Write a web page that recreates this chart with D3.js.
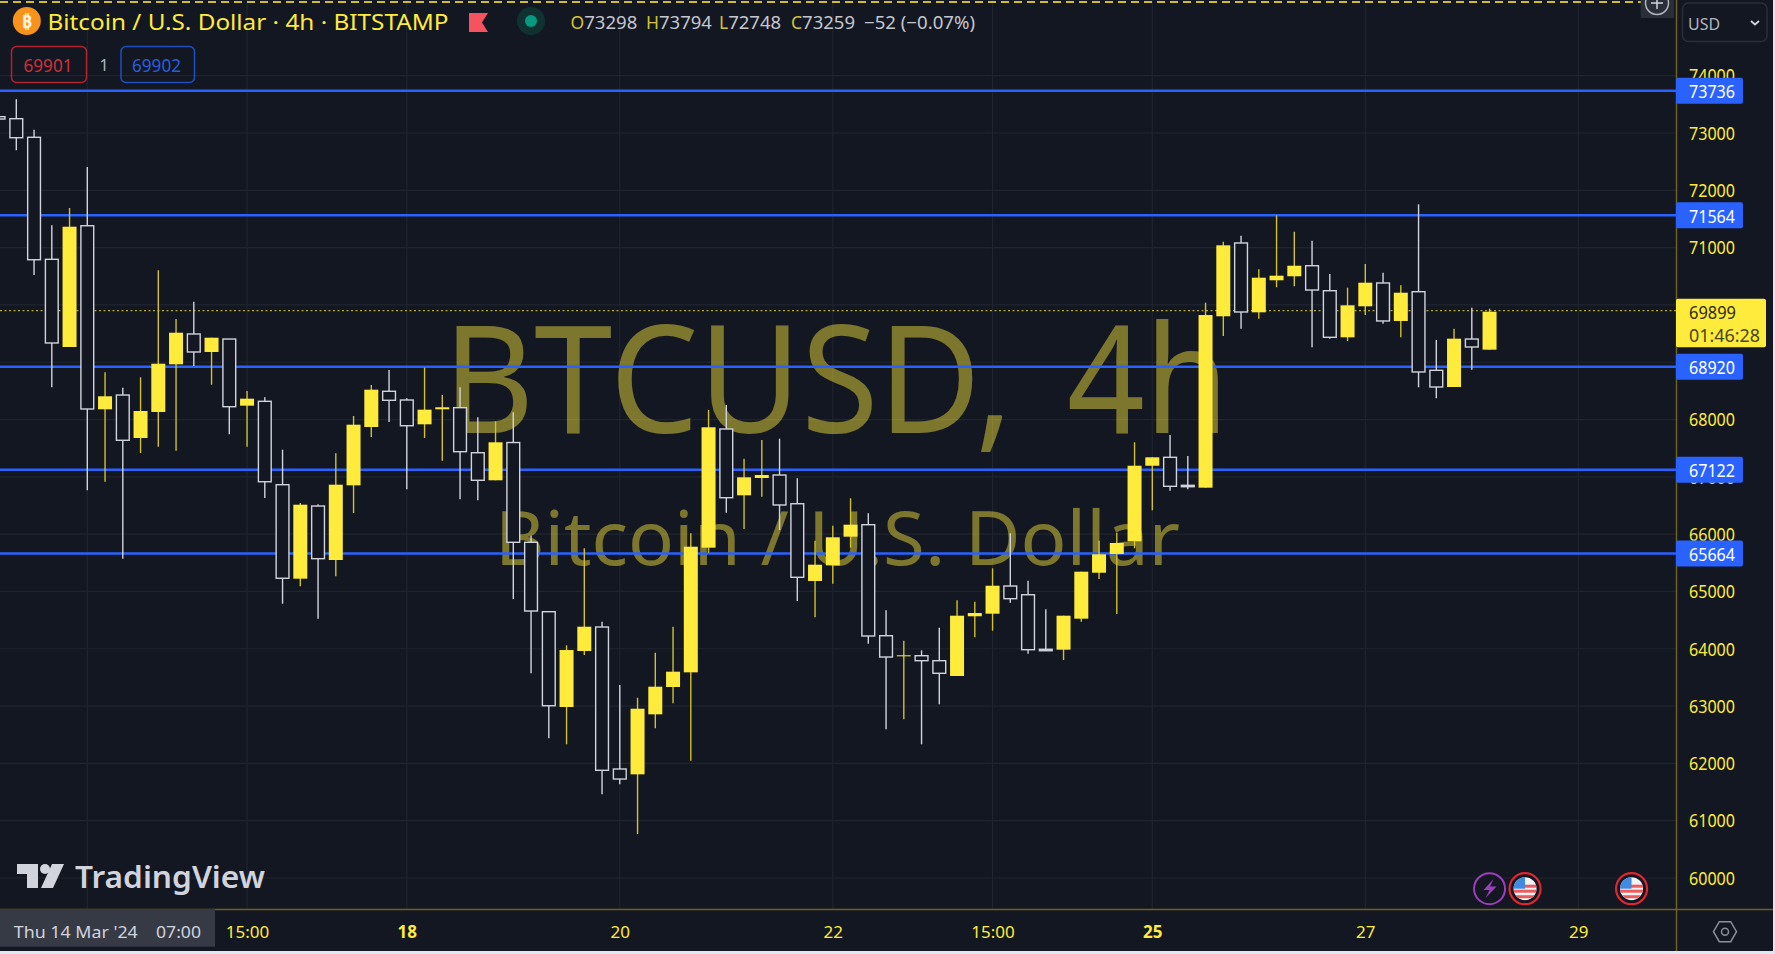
<!DOCTYPE html>
<html>
<head>
<meta charset="utf-8">
<script src="https://cdn.jsdelivr.net/npm/d3@7"></script>
<style>
  html, body { margin: 0; padding: 0; background: #131722; overflow: hidden; }
  svg { display: block; }
  text { font-family: "Noto Sans", sans-serif; }
</style>
</head>
<body>
<svg id="chart" width="1775" height="954"></svg>
<script>
// bar index 0 is the gridline hidden under the date tooltip, first bar is cut by the left edge
var firstBar = -5;
var opens = [73285,73250,72925,70796,69266,71382,68179,68428,67678,68132,68964,69493,69179,69405,68242,68318,66863,65223,66491,65549,66852,67870,68493,68341,67917,68179,68207,67421,66940,67599,65858,64647,62984,63961,64380,61902,61809,62856,63333,63589,65764,67835,66678,66980,67032,66531,65183,65456,65956,66165,64228,63869,63879,63792,63525,64567,64612,65095,64943,63991,63984,64525,65327,65654,65875,67194,67341,66852,66811,69802,71081,69871,70430,70500,70684,70248,69435,69976,70383,69720,70231,68859,68568,69405,69219];
var highs = [73285,73588,73058,71390,71691,72407,68824,68556,68737,70604,69754,70056,69428,69405,68498,68388,67474,66544,66521,67411,68062,68603,68864,68371,68905,68428,68563,68039,67969,68126,65973,64647,64060,65753,64472,63368,63146,63931,64385,66015,68166,68254,67317,67643,67666,66975,65886,66147,66626,66364,64671,64141,63973,64368,64846,64821,65404,66015,65188,64689,64577,65345,65886,66025,67603,67341,67730,67364,70039,71103,71208,70622,71564,71278,71121,70540,70301,70714,70562,70343,71756,69388,69585,69952,69934];
var lows = [73244,72698,70522,68563,69266,66765,66915,65572,67416,67526,67456,68934,68608,67743,67526,66631,64786,65090,64525,65265,66369,67695,67957,66783,67678,67282,66608,66591,66940,64868,63572,62438,62333,63891,61460,61635,60768,62612,63048,62047,65676,66374,66090,66654,66072,64834,64549,65135,65764,64088,62595,62769,62333,63031,63525,64200,64315,64804,63914,63966,63804,64472,65217,64607,65753,66416,66758,66783,66811,69458,69585,69760,70308,70325,69261,69411,69371,69824,69672,69435,68563,68371,68568,68870,69219];
var closes = [73244,72918,70789,69336,71365,68184,68406,67638,68149,68974,69515,69179,69428,68224,68364,66915,65230,66514,65572,66863,67910,68521,68336,67892,68172,68214,67439,66940,67603,65858,64659,63006,63978,64385,61879,61727,62954,63338,63600,65781,67865,66636,66992,67032,66509,65247,65467,65945,66165,64223,63856,63886,63792,63572,64577,64624,65100,64874,63984,63966,64577,65345,65648,65846,67194,67341,66835,66828,69824,71040,69877,70475,70510,70684,70260,69435,69993,70388,69720,70213,68830,68568,69411,69266,69882];

var levels = [73736, 71564, 68920, 67122, 65664];
var lastPrice = 69899;
var countdown = "01:46:28";
var priceTicks = [60000,61000,62000,63000,64000,65000,66000,67000,68000,69000,70000,71000,72000,73000,74000];
// 69000 and 70000 sit behind the price tags in the picture
var priceLabels = [60000,61000,62000,63000,64000,65000,66000,67000,68000,71000,72000,73000,74000];
var timeTicks = [9, 18, 30, 42, 51, 60, 72, 84];
var timeLabels = ["15:00", "18", "20", "22", "15:00", "25", "27", "29"];
var boldTimeLabels = ["18", "25"];
var boltBar = 79;
var flagBars = [81, 87];

var bg = "#131722", yellow = "#ffeb3b", wickYellow = "#d2c02c", white = "#d1d4dc",
    blue = "#2962ff", grid = "#20242f", axisLine = "#6b6226";

var plotW = 1676, plotH = 909;
var svg = d3.select("#chart");

var x = d3.scaleLinear().domain([0, 84]).range([87.3, 1578.3]);
var y = d3.scaleLinear().domain([60000, 74000]).range([878, 75.7]);

function put(g, px, py, txt, o) {
  o = o || {};
  var t = g.append("text").attr("x", px).attr("y", py).text(txt)
    .attr("fill", o.fill || white)
    .attr("font-size", o.size || 18)
    .attr("font-weight", o.weight || 400)
    .attr("text-anchor", o.anchor || "start")
    .attr("dominant-baseline", "central");
  if (o.len) t.attr("textLength", o.len).attr("lengthAdjust", "spacingAndGlyphs");
  return t;
}

svg.append("rect").attr("width", 1775).attr("height", 954).attr("fill", bg);

// grid
var gridG = svg.append("g");
gridG.selectAll(".h").data(priceTicks).enter().append("line")
  .attr("x1", 0).attr("x2", plotW)
  .attr("y1", function (d) { return y(d); }).attr("y2", function (d) { return y(d); })
  .attr("stroke", grid).attr("stroke-width", 1.2);
gridG.selectAll(".v").data([0].concat(timeTicks)).enter().append("line")
  .attr("x1", function (d) { return x(d); }).attr("x2", function (d) { return x(d); })
  .attr("y1", 0).attr("y2", plotH)
  .attr("stroke", grid).attr("stroke-width", 1.2);

// watermark
var mark = svg.append("g").attr("opacity", 0.45).attr("fill", yellow);
mark.append("text").text("BTCUSD,").attr("x", 443).attr("y", 433)
  .attr("font-size", 150)
  .attr("textLength", 570).attr("lengthAdjust", "spacingAndGlyphs");
mark.append("text").text("4h").attr("x", 1067).attr("y", 433)
  .attr("font-size", 150)
  .attr("textLength", 162).attr("lengthAdjust", "spacingAndGlyphs");
mark.append("text").text("Bitcoin / U.S. Dollar").attr("x", 495).attr("y", 565)
  .attr("font-size", 74)
  .attr("textLength", 685).attr("lengthAdjust", "spacingAndGlyphs");

// last price line, horizontal levels
svg.append("line").attr("x1", 0).attr("x2", plotW)
  .attr("y1", y(lastPrice)).attr("y2", y(lastPrice))
  .attr("stroke", "#b5a62d").attr("stroke-width", 1.2).attr("stroke-dasharray", "2,2.5");

svg.selectAll(".level").data(levels).enter().append("line")
  .attr("x1", 0).attr("x2", plotW)
  .attr("y1", function (d) { return y(d); }).attr("y2", function (d) { return y(d); })
  .attr("stroke", blue).attr("stroke-width", 2.5);

// candles
var bars = d3.range(opens.length);
var candle = svg.append("g").selectAll("g").data(bars).enter().append("g");

candle.append("line")
  .attr("x1", function (i) { return x(i + firstBar); })
  .attr("x2", function (i) { return x(i + firstBar); })
  .attr("y1", function (i) { return y(highs[i]); })
  .attr("y2", function (i) { return y(lows[i]); })
  .attr("stroke-width", 1.4)
  .attr("stroke", function (i) { return closes[i] >= opens[i] ? wickYellow : white; });

candle.append("rect")
  .attr("x", function (i) { return x(i + firstBar) - (closes[i] >= opens[i] ? 7 : 6.4); })
  .attr("width", function (i) { return closes[i] >= opens[i] ? 14 : 12.8; })
  .attr("y", function (i) { return y(Math.max(opens[i], closes[i])); })
  .attr("height", function (i) { return Math.max(1, Math.abs(y(opens[i]) - y(closes[i]))); })
  .attr("fill", function (i) { return closes[i] >= opens[i] ? yellow : bg; })
  .attr("stroke", function (i) { return closes[i] >= opens[i] ? "none" : white; })
  .attr("stroke-width", 1.4);

// axis panels
svg.append("rect").attr("x", plotW).attr("y", 0).attr("width", 99).attr("height", 954).attr("fill", bg);
svg.append("rect").attr("x", 0).attr("y", plotH).attr("width", 1775).attr("height", 45).attr("fill", bg);
svg.append("line").attr("x1", plotW + 0.5).attr("x2", plotW + 0.5).attr("y1", 0).attr("y2", 951)
  .attr("stroke", axisLine).attr("stroke-width", 1.5);
svg.append("line").attr("x1", 0).attr("x2", 1773).attr("y1", plotH + 0.5).attr("y2", plotH + 0.5)
  .attr("stroke", axisLine).attr("stroke-width", 1.5);

var yAxis = svg.append("g").attr("transform", "translate(" + (plotW + 13) + ",0.5)")
  .call(d3.axisRight(y).tickValues(priceLabels).tickSize(0).tickPadding(0).tickFormat(d3.format("d")));
yAxis.select(".domain").remove();
yAxis.selectAll("text").attr("fill", yellow).attr("font-size", 18)
  .attr("font-family", '"Noto Sans", sans-serif')
  .attr("textLength", 46).attr("lengthAdjust", "spacingAndGlyphs");

var xAxis = svg.append("g").attr("transform", "translate(0,926)")
  .call(d3.axisBottom(x).tickValues(timeTicks).tickSize(0).tickPadding(0)
    .tickFormat(function (d, i) { return timeLabels[i]; }));
xAxis.select(".domain").remove();
xAxis.selectAll("text").attr("fill", yellow).attr("font-size", 17)
  .attr("font-family", '"Noto Sans", sans-serif')
  .attr("font-weight", function (d, i) { return boldTimeLabels.indexOf(timeLabels[i]) >= 0 ? 700 : 400; });

// price tags
var tags = svg.append("g");
levels.forEach(function (d) {
  tags.append("rect").attr("x", plotW).attr("y", y(d) - 13).attr("width", 67).attr("height", 26)
    .attr("rx", 2).attr("fill", blue);
  put(tags, plotW + 36, y(d) + 0.5, String(d), { fill: "#ffffff", anchor: "middle", len: 46 });
});
tags.append("rect").attr("x", plotW).attr("y", 298.7).attr("width", 90).attr("height", 48.6)
  .attr("rx", 2).attr("fill", yellow);
put(tags, plotW + 13, 311.5, String(lastPrice), { fill: "#2e2b12", len: 47 });
put(tags, plotW + 13, 335, countdown, { fill: "#4a4516", len: 71 });

// header
var head = svg.append("g");
head.append("line").attr("x1", 0).attr("x2", 1641).attr("y1", 2).attr("y2", 2)
  .attr("stroke", "#cdbd2f").attr("stroke-width", 1.8).attr("stroke-dasharray", "8,5");
head.append("circle").attr("cx", 26.8).attr("cy", 21).attr("r", 14).attr("fill", "#f7931a");
put(head, 26.8, 21, "₿", { fill: "#fff1dc", size: 18, weight: 700, anchor: "middle" });
put(head, 47.5, 21, "Bitcoin / U.S. Dollar · 4h · BITSTAMP", { fill: yellow, size: 22, len: 401 });
head.append("path").attr("d", "M469,13H488L482,22.5L488,32H469Z").attr("fill", "#f7525f");
head.append("circle").attr("cx", 531).attr("cy", 21).attr("r", 14).attr("fill", "#0f3230");
head.append("circle").attr("cx", 531).attr("cy", 21).attr("r", 6).attr("fill", "#089981");

var ohlc = [["O", "73298", 570.6], ["H", "73794", 646], ["L", "72748", 719], ["C", "73259", 791]];
ohlc.forEach(function (d) {
  var t = put(head, d[2], 21.5, d[0], { fill: "#d3c32f", size: 17.5 });
  put(head, d[2] + t.node().getComputedTextLength(), 21.5, d[1], { fill: "#c4c7cf", size: 17.5, len: 53 });
});
put(head, 864, 21.5, "−52 (−0.07%)", { fill: "#c4c7cf", size: 17.5, len: 111 });

// order boxes
var buy = svg.append("g");
buy.append("rect").attr("x", 11.5).attr("y", 46.5).attr("width", 75).attr("height", 36).attr("rx", 5)
  .attr("fill", "none").attr("stroke", "#b2232e").attr("stroke-width", 1.5);
put(buy, 48, 65, "69901", { fill: "#d0303a", anchor: "middle", size: 17.5, len: 49 });
put(buy, 104, 65, "1", { fill: "#b2b5be", anchor: "middle", size: 16 });
buy.append("rect").attr("x", 121).attr("y", 46.5).attr("width", 73.5).attr("height", 36).attr("rx", 5)
  .attr("fill", "none").attr("stroke", "#1e4fc0").attr("stroke-width", 1.5);
put(buy, 156.5, 65, "69902", { fill: "#2a5fdc", anchor: "middle", size: 17.5, len: 49 });

// top right controls
var ctl = svg.append("g");
ctl.append("rect").attr("x", 1640.7).attr("y", 0).attr("width", 33.3).attr("height", 18).attr("fill", "#2a2e39");
ctl.append("circle").attr("cx", 1657).attr("cy", 3).attr("r", 11.5)
  .attr("fill", "none").attr("stroke", "#b2b5be").attr("stroke-width", 1.5);
ctl.append("path").attr("d", "M1651,3H1663M1657,-3V9").attr("stroke", "#d1d4dc").attr("stroke-width", 1.5);
ctl.append("rect").attr("x", 1682.5).attr("y", 3).attr("width", 84.5).attr("height", 38.5).attr("rx", 6)
  .attr("fill", "none").attr("stroke", "#2a2e39").attr("stroke-width", 1.5);
put(ctl, 1688, 23, "USD", { fill: "#b2b5be", size: 17, len: 32 });
ctl.append("path").attr("d", "M1751,21L1755,24.5L1759,21").attr("fill", "none")
  .attr("stroke", "#d1d4dc").attr("stroke-width", 1.8);

// date tooltip
var tip = svg.append("g");
tip.append("rect").attr("x", 0).attr("y", plotH).attr("width", 215).attr("height", 37.7).attr("fill", "#363a45");
put(tip, 13.8, 931, "Thu 14 Mar '24", { fill: "#d1d4dc", size: 17, len: 124 });
put(tip, 156, 931, "07:00", { fill: "#d1d4dc", size: 17, len: 45 });

// logo
var logo = svg.append("g").attr("fill", "#d1d4dc");
logo.append("path").attr("d", "M17,864H38V888H27V874H17Z");
logo.append("circle").attr("cx", 45).attr("cy", 869).attr("r", 5);
logo.append("path").attr("d", "M52,864H64L53,888H41Z");
put(logo, 75, 876, "TradingView", { fill: "#d1d4dc", size: 31, weight: 600, len: 190 });

// event icons
var ev = svg.append("g");
var defs = svg.append("defs");
defs.append("clipPath").attr("id", "flagClip").append("circle").attr("r", 11.5);
var bolt = ev.append("g").attr("transform", "translate(" + x(boltBar) + ",888.7)");
bolt.append("circle").attr("r", 15.5)
  .attr("fill", bg).attr("stroke", "#9c3fbd").attr("stroke-width", 2);
bolt.append("path").attr("d", "M4,-9.7L-6,1.3H0L-4,9.3L7,-2.2H0.5Z").attr("fill", "#9c3fbd");

flagBars.forEach(function (b) {
  var f = ev.append("g").attr("transform", "translate(" + x(b) + ",888.7)");
  f.append("circle").attr("r", 15.5).attr("fill", "#131722").attr("stroke", "#e0272f").attr("stroke-width", 2.2);
  var c = f.append("g").attr("clip-path", "url(#flagClip)");
  c.append("rect").attr("x", -12).attr("y", -12).attr("width", 24).attr("height", 24).attr("fill", "#f2f3f6");
  [-4, 1, 6.5].forEach(function (sy) {
    c.append("rect").attr("x", -12).attr("y", sy).attr("width", 24).attr("height", 3).attr("fill", "#ef5b5b");
  });
  c.append("rect").attr("x", -12).attr("y", -12).attr("width", 12).attr("height", 12).attr("fill", "#3f8be0");
});

// settings icon
var gear = svg.append("g").attr("transform", "translate(1725,931.7)")
  .attr("fill", "none").attr("stroke", "#8a8f9c").attr("stroke-width", 1.5);
gear.append("path").attr("d", "M-11.5,0L-5.7,-10H5.7L11.5,0L5.7,10H-5.7Z");
gear.append("circle").attr("r", 3.5);

// screenshot edge
svg.append("rect").attr("x", 0).attr("y", 951).attr("width", 1775).attr("height", 3).attr("fill", "#e3e6ee");
svg.append("rect").attr("x", 1773).attr("y", 0).attr("width", 2).attr("height", 954).attr("fill", "#e3e6ee");
</script>
</body>
</html>
